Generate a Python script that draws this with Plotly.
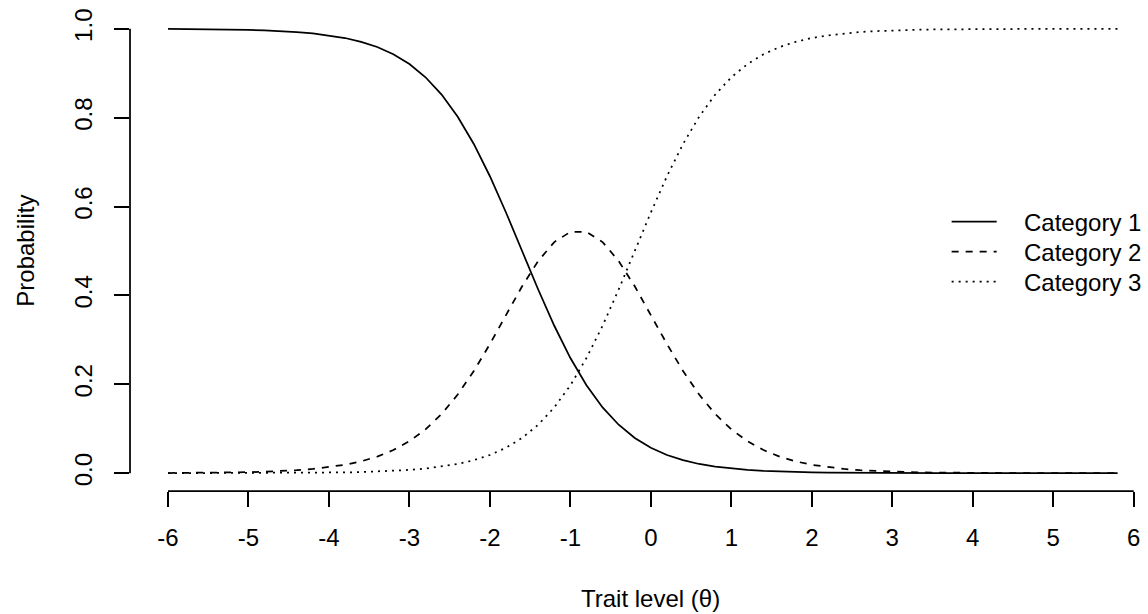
import plotly.graph_objects as go

theta = [-6.0, -5.8, -5.6, -5.4, -5.2, -5.0, -4.8, -4.6, -4.4, -4.2,
         -4.0, -3.8, -3.6, -3.4, -3.2, -3.0, -2.8, -2.6, -2.4, -2.2,
         -2.0, -1.8, -1.6, -1.4, -1.2, -1.0, -0.8, -0.6, -0.4, -0.2,
         0.0, 0.2, 0.4, 0.6, 0.8, 1.0, 1.2, 1.4, 1.6, 1.8,
         2.0, 2.2, 2.4, 2.6, 2.8, 3.0, 3.2, 3.4, 3.6, 3.8,
         4.0, 4.2, 4.4, 4.6, 4.8, 5.0, 5.2, 5.4, 5.6, 5.8]

cat1 = [0.9996, 0.9994, 0.9991, 0.9987, 0.9982, 0.9974, 0.9963, 0.9948, 0.9926, 0.9895,
        0.9852, 0.9792, 0.9707, 0.9589, 0.9427, 0.9206, 0.8909, 0.8520, 0.8022, 0.7408,
        0.6682, 0.5866, 0.5000, 0.4134, 0.3318, 0.2592, 0.1978, 0.1481, 0.1091, 0.0794,
        0.0573, 0.0411, 0.0293, 0.0208, 0.0148, 0.0105, 0.0074, 0.0052, 0.0037, 0.0026,
        0.0018, 0.0013, 0.0009, 0.0006, 0.0005, 0.0003, 0.0002, 0.0002, 0.0001, 0.0001,
        0.0001, 0.0000, 0.0000, 0.0000, 0.0000, 0.0000, 0.0000, 0.0000, 0.0000, 0.0000]

cat2 = [0.0004, 0.0006, 0.0008, 0.0012, 0.0017, 0.0024, 0.0034, 0.0048, 0.0068, 0.0096,
        0.0135, 0.0190, 0.0267, 0.0374, 0.0521, 0.0721, 0.0986, 0.1333, 0.1770, 0.2299,
        0.2907, 0.3561, 0.4206, 0.4775, 0.5201, 0.5430, 0.5430, 0.5201, 0.4775, 0.4206,
        0.3561, 0.2907, 0.2299, 0.1770, 0.1333, 0.0986, 0.0721, 0.0521, 0.0374, 0.0267,
        0.0190, 0.0135, 0.0096, 0.0068, 0.0048, 0.0034, 0.0024, 0.0017, 0.0012, 0.0008,
        0.0006, 0.0004, 0.0003, 0.0002, 0.0002, 0.0001, 0.0001, 0.0001, 0.0000, 0.0000]

cat3 = [0.0000, 0.0001, 0.0001, 0.0001, 0.0002, 0.0002, 0.0003, 0.0005, 0.0006, 0.0009,
        0.0013, 0.0018, 0.0026, 0.0037, 0.0052, 0.0074, 0.0105, 0.0148, 0.0208, 0.0293,
        0.0411, 0.0573, 0.0794, 0.1091, 0.1481, 0.1978, 0.2592, 0.3318, 0.4134, 0.5000,
        0.5866, 0.6682, 0.7408, 0.8022, 0.8520, 0.8909, 0.9206, 0.9427, 0.9589, 0.9707,
        0.9792, 0.9852, 0.9895, 0.9926, 0.9948, 0.9963, 0.9974, 0.9982, 0.9987, 0.9991,
        0.9994, 0.9996, 0.9997, 0.9998, 0.9998, 0.9999, 0.9999, 0.9999, 1.0000, 1.0000]

series_names = ["Category 1", "Category 2", "Category 3"]
x_ticks = [-6, -5, -4, -3, -2, -1, 0, 1, 2, 3, 4, 5, 6]
x_tick_labels = ["-6", "-5", "-4", "-3", "-2", "-1", "0", "1", "2", "3", "4", "5", "6"]
y_ticks = [0.0, 0.2, 0.4, 0.6, 0.8, 1.0]
y_tick_labels = ["0.0", "0.2", "0.4", "0.6", "0.8", "1.0"]

FONT = "Liberation Sans, Arial, Helvetica, sans-serif"
FS = 24
LW = 1.75
dashes = ["solid", "7px,7px", "2px,5px"]

fig = go.Figure()
for name, ys, d in zip(series_names, [cat1, cat2, cat3], dashes):
    fig.add_trace(go.Scatter(x=theta, y=ys, mode="lines", name=name,
                             line=dict(color="black", width=LW, dash=d),
                             showlegend=False))

W, H = 1148, 614
ml, mr, mt, mb = 130.3, 0.0, 11.2, 123.2
pw = W - ml - mr
ph = H - mt - mb
pxu = 80.45  # px per theta unit
x0 = -6 - (168.3 - ml) / pxu
x1 = x0 + pw / pxu

fig.update_layout(
    width=W, height=H,
    margin=dict(l=ml, r=mr, t=mt, b=mb, pad=0),
    paper_bgcolor="white", plot_bgcolor="white",
    font=dict(family=FONT, size=FS, color="black"),
    xaxis=dict(range=[x0, x1], tickvals=x_ticks, ticktext=x_tick_labels,
               ticks="outside", ticklen=15,
               tickwidth=LW, tickcolor="black", showgrid=False, zeroline=False,
               showline=False, tickfont=dict(family=FONT, size=FS),
               ticklabelstandoff=10),
    yaxis=dict(range=[-0.04, 1.04], tickvals=y_ticks, ticktext=y_tick_labels,
               ticks="outside", ticklen=15, tickwidth=LW, tickcolor="black",
               showgrid=False, zeroline=False, showline=False, tickangle=-90,
               tickfont=dict(family=FONT, size=FS), ticklabelstandoff=12),
)

# R-style axis lines spanning only the tick range
fig.add_shape(type="line", xref="x", yref="paper", x0=x_ticks[0], x1=x_ticks[-1],
              y0=0, y1=0, line=dict(color="black", width=LW))
fig.add_shape(type="line", xref="paper", yref="y", x0=0, x1=0,
              y0=y_ticks[0], y1=y_ticks[-1], line=dict(color="black", width=LW))

# axis titles
fig.add_annotation(text="Trait level (θ)", xref="paper", yref="paper",
                   x=(651 - ml) / pw, y=(ph + mt - 598) / ph, showarrow=False,
                   xanchor="center", yanchor="middle", font=dict(size=FS))
fig.add_annotation(text="Probability", xref="paper", yref="paper",
                   x=(25 - ml) / pw, y=(ph + mt - 251) / ph, showarrow=False,
                   textangle=-90, xanchor="center", yanchor="middle", font=dict(size=FS))

# manual legend (R style)
leg_y = [221.7, 251.7, 281.7]
for name, d, py in zip(series_names, dashes, leg_y):
    yp = (ph + mt - py) / ph
    fig.add_shape(type="line", xref="paper", yref="paper",
                  x0=(951.7 - ml) / pw, x1=(996.7 - ml) / pw, y0=yp, y1=yp,
                  line=dict(color="black", width=LW, dash=d))
    fig.add_annotation(text=name, xref="paper", yref="paper",
                       x=(1021.7 - ml) / pw, y=yp, yshift=-1, showarrow=False,
                       xanchor="left", yanchor="middle", font=dict(size=FS))

fig.write_html("out.html")
